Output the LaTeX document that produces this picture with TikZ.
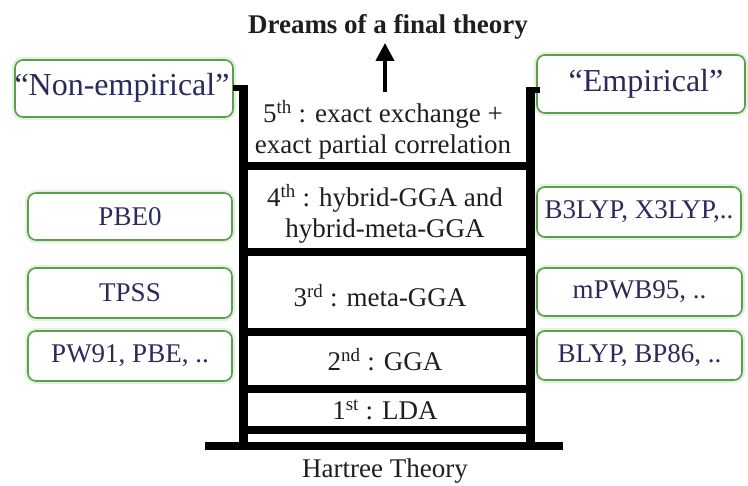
\documentclass[tikz,border=0pt]{standalone}
\usepackage{fontspec}
\setmainfont{Liberation Serif}
\usetikzlibrary{arrows.meta}
\definecolor{boxgreen}{HTML}{5A9E4E}
\definecolor{glow}{HTML}{E2F1DD}
\definecolor{navy}{HTML}{2A2B5C}
\definecolor{ink}{HTML}{1E1E1E}
\begin{document}
\begin{tikzpicture}[x=1pt,y=-1pt,
  sbox/.style={draw=boxgreen, line width=1.6pt, rounded corners=8pt, fill=white,
    preaction={draw=glow, line width=6pt}, inner sep=0pt},
  btext/.style={text=navy, font=\fontsize{27}{30}\selectfont, inner sep=0pt},
  bigtext/.style={text=navy, font=\fontsize{32}{34}\selectfont, inner sep=0pt},
  ltext/.style={text=ink, font=\fontsize{27}{31}\selectfont, align=center, inner sep=0pt},
  rail/.style={line width=9pt, draw=black},
  rung/.style={line width=8pt, draw=black}]
\useasboundingbox (0,0) rectangle (748,486);
% left boxes
\node[sbox, minimum width=218pt, minimum height=57pt] (ne) at (124,88.5) {};
\node[bigtext] (netext) at (122,88) {“Non-empirical”};
\node[sbox, minimum width=204pt, minimum height=47pt] (pbe0) at (130,216.5) {};
\node[btext] (pbe0t) at (130,216.5) {PBE0};
\node[sbox, minimum width=204pt, minimum height=50pt] (tpss) at (130,293) {};
\node[btext] (tpsst) at (130,293) {TPSS};
\node[sbox, minimum width=204pt, minimum height=50pt] (pw) at (130,356) {};
\node[btext] (pwt) at (130,356) {PW91, PBE, ..};
% right boxes
\node[sbox, minimum width=208pt, minimum height=58pt] (em) at (641,84) {};
\node[bigtext] (emt) at (646,84) {“Empirical”};
\node[sbox, minimum width=204pt, minimum height=50pt] (b3) at (639,212) {};
\node[btext] (b3t) at (639,212) {B3LYP, X3LYP,..};
\node[sbox, minimum width=205pt, minimum height=48pt] (mp) at (639.5,292) {};
\node[btext] (mpt) at (639.5,292) {mPWB95, ..};
\node[sbox, minimum width=205pt, minimum height=49pt] (bl) at (639.5,355.5) {};
\node[btext] (blt) at (639.5,355.5) {BLYP, BP86, ..};
% ladder
\coordinate (ltop) at (243,85);
\coordinate (lbot) at (243,446);
\coordinate (rtop) at (530,87);
\coordinate (rbot) at (530,446);
\draw[rail] (ltop) -- (lbot);
\draw[rail] (rtop) -- (rbot);
\fill[black] (233,85) rectangle (247,91);
\fill[black] (526,87) rectangle (540,93);
\foreach \yy in {166,252,332,389,430}
  \draw[rung] (243,\yy) -- (530,\yy);
\coordinate (fl) at (205,446);
\coordinate (fr) at (563,446);
\draw[rung] (fl) -- (fr);
% ladder texts
\node[ltext] (l5) at (383,130) {5\textsuperscript{th} : exact exchange +\\exact partial correlation};
\node[ltext] (l4) at (385,214) {4\textsuperscript{th} : hybrid-GGA and\\hybrid-meta-GGA};
\node[ltext] (l3) at (380,296) {3\textsuperscript{rd} : meta-GGA};
\node[ltext] (l2) at (385,360) {2\textsuperscript{nd} : GGA};
\node[ltext] (l1) at (385,410) {1\textsuperscript{st} : LDA};
\node[ltext] (ht) at (385,471) {Hartree Theory};
\node[ltext, font=\bfseries\fontsize{27}{30}\selectfont] (dream) at (388,27) {Dreams of a final theory};
\coordinate (abot) at (385,92);
\coordinate (atop) at (385,43);
\draw[line width=4pt, -{Triangle[width=18pt,length=18pt]}] (abot) -- (atop);
\end{tikzpicture}
\end{document}
